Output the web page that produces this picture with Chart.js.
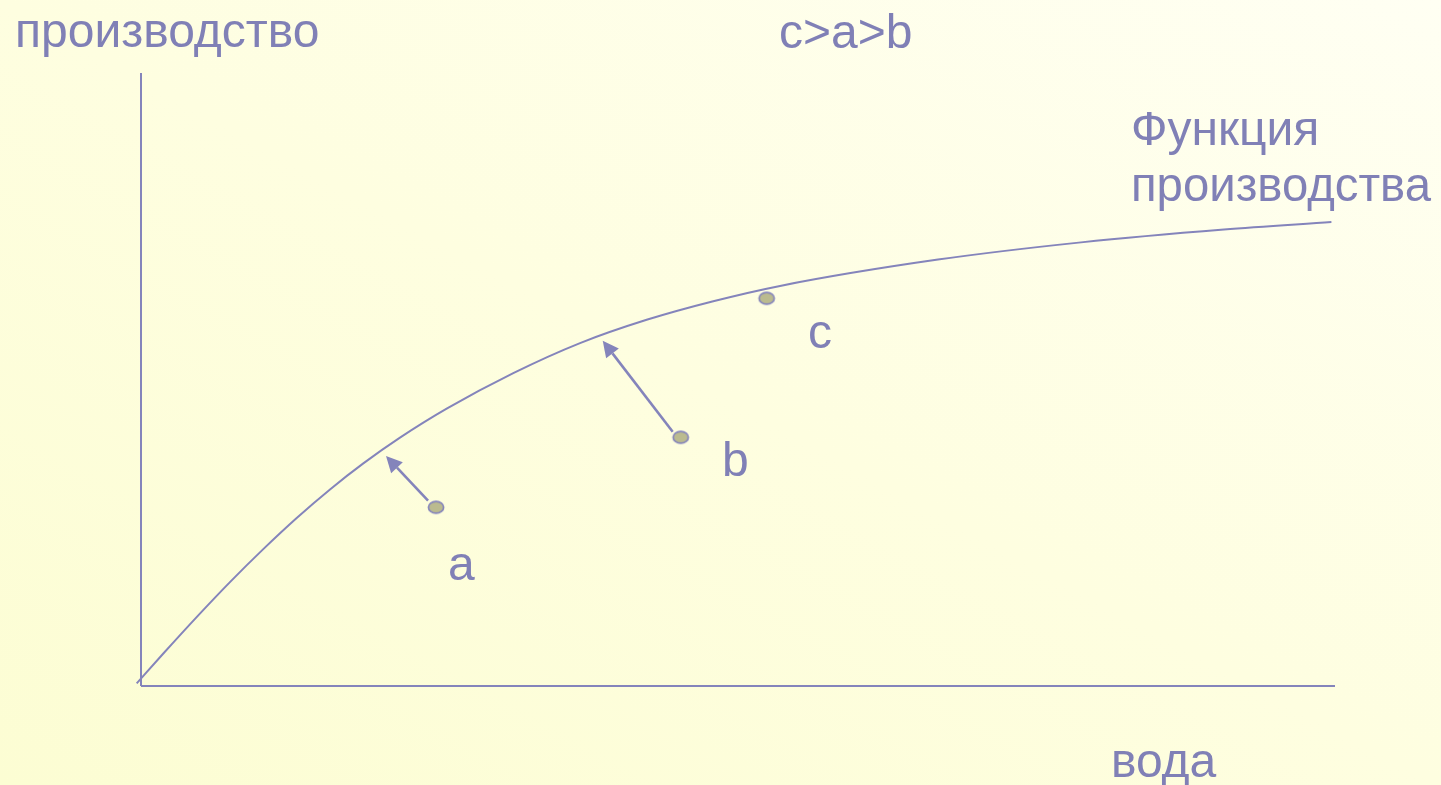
<!DOCTYPE html>
<html>
<head>
<meta charset="utf-8">
<script src="https://cdn.jsdelivr.net/npm/chart.js@4/dist/chart.umd.min.js"></script>
<style>
  html, body { margin: 0; padding: 0; width: 1441px; height: 785px; overflow: hidden; }
  body { background: linear-gradient(to top right, #fcfdd3 0%, #fefee0 50%, #fffff3 100%); }
  #c { display: block; }
</style>
</head>
<body>
<canvas id="c" width="1441" height="785"></canvas>
<script>
// ---- data (water on x, production on y, arbitrary units 0..10) ----
const curveWater      = [-0.036, 0.187, 0.466, 0.745, 1.024, 1.304, 1.583, 1.862, 2.169, 2.560, 3.118, 3.677, 4.235, 4.793, 5.352, 6.675, 7.873, 9.070, 9.97];
const curveProduction = [0.044, 0.530, 1.124, 1.695, 2.233, 2.741, 3.207, 3.631, 4.051, 4.524, 5.104, 5.594, 5.974, 6.277, 6.527, 6.956, 7.237, 7.447, 7.569];

const pointNames      = ['a', 'b', 'c'];
const pointWater      = [2.471, 4.520, 5.240];
const pointProduction = [2.915, 4.057, 6.325];

// arrows: from (tailX, tailY) to (tipX, tipY)
const arrowTailWater      = [2.404, 4.453];
const arrowTailProduction = [3.023, 4.148];
const arrowTipWater       = [2.052, 3.867];
const arrowTipProduction  = [3.752, 5.633];

const axisXLine = [[0, 0], [10, 0]];
const axisYLine = [[0, 0], [0, 10]];

const yAxisTitle = 'производство';
const xAxisTitle = 'вода';
const orderText  = 'c>a>b';
const curveTitle = ['Функция', 'производства'];

// ---- styles ----
const LINE = '#8484bb';
const TEXT = '#8080b6';
const FONT = '"Liberation Sans", Arial, sans-serif';

// ellipse marker
const marker = document.createElement('canvas');
marker.width = 20; marker.height = 16;
(function () {
  const m = marker.getContext('2d');
  m.beginPath();
  m.ellipse(10, 8, 7.6, 5.9, 0, 0, Math.PI * 2);
  m.fillStyle = '#bbbb8f';
  m.fill();
  m.lineWidth = 1.7;
  m.strokeStyle = '#8585bc';
  m.stroke();
})();

const textItems = [
  { text: yAxisTitle,    x: 15,   y: 47 },
  { text: orderText,     x: 779,  y: 48 },
  { text: curveTitle[0], x: 1131, y: 145 },
  { text: curveTitle[1], x: 1131, y: 201 },
  { text: xAxisTitle,    x: 1111, y: 777 },
  { text: pointNames[0], x: 448,  y: 580 },
  { text: pointNames[1], x: 722,  y: 476 },
  { text: pointNames[2], x: 808,  y: 348 }
];

const decorPlugin = {
  id: 'decor',
  afterDatasetsDraw(chart) {
    const ctx = chart.ctx;
    const xs = chart.scales.x, ys = chart.scales.y;
    ctx.save();
    // arrows
    for (let i = 0; i < arrowTailWater.length; i++) {
      const x1 = xs.getPixelForValue(arrowTailWater[i]);
      const y1 = ys.getPixelForValue(arrowTailProduction[i]);
      const x2 = xs.getPixelForValue(arrowTipWater[i]);
      const y2 = ys.getPixelForValue(arrowTipProduction[i]);
      const ang = Math.atan2(y2 - y1, x2 - x1);
      const headLen = 16, headHalf = 8;
      const bx = x2 - headLen * Math.cos(ang), by = y2 - headLen * Math.sin(ang);
      ctx.strokeStyle = LINE;
      ctx.lineWidth = 2.6;
      ctx.beginPath();
      ctx.moveTo(x1, y1);
      ctx.lineTo(bx, by);
      ctx.stroke();
      ctx.fillStyle = LINE;
      ctx.beginPath();
      ctx.moveTo(x2, y2);
      ctx.lineTo(bx + headHalf * Math.sin(ang), by - headHalf * Math.cos(ang));
      ctx.lineTo(bx - headHalf * Math.sin(ang), by + headHalf * Math.cos(ang));
      ctx.closePath();
      ctx.fill();
    }
    // texts
    ctx.fillStyle = TEXT;
    ctx.textBaseline = 'alphabetic';
    ctx.textAlign = 'left';
    textItems.forEach(t => {
      ctx.font = (t.text === curveTitle[1] ? '47.3px ' : '48px ') + FONT;
      ctx.fillText(t.text, t.x, t.y);
    });
    ctx.restore();
  }
};

new Chart(document.getElementById('c'), {
  type: 'scatter',
  data: {
    datasets: [
      {
        label: 'axisX',
        data: axisXLine.map(p => ({ x: p[0], y: p[1] })),
        showLine: true, borderColor: LINE, borderWidth: 2, pointRadius: 0, clip: false
      },
      {
        label: 'axisY',
        data: axisYLine.map(p => ({ x: p[0], y: p[1] })),
        showLine: true, borderColor: LINE, borderWidth: 2, pointRadius: 0, clip: false
      },
      {
        label: 'Функция производства',
        data: curveWater.map((w, i) => ({ x: w, y: curveProduction[i] })),
        showLine: true, borderColor: LINE, borderWidth: 2, pointRadius: 0,
        cubicInterpolationMode: 'monotone', clip: false
      },
      {
        label: 'points',
        data: pointWater.map((w, i) => ({ x: w, y: pointProduction[i] })),
        showLine: false, pointStyle: marker, pointRadius: 8, clip: false
      }
    ]
  },
  options: {
    responsive: false,
    animation: false,
    events: [],
    layout: { padding: { left: 141, right: 106, top: 73, bottom: 99 } },
    plugins: { legend: { display: false }, tooltip: { enabled: false } },
    scales: {
      x: { type: 'linear', min: 0, max: 10, display: false },
      y: { type: 'linear', min: 0, max: 10, display: false }
    }
  },
  plugins: [decorPlugin]
});
</script>
</body>
</html>
